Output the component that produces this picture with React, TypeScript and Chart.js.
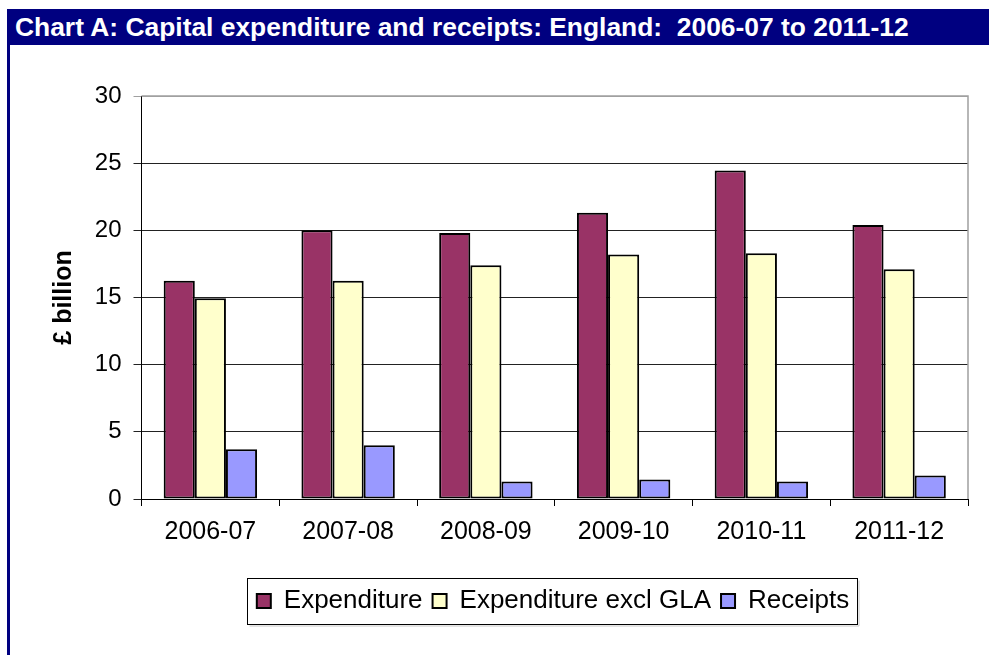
import React, { useEffect, useRef } from "react";
import { Chart, registerables } from "chart.js";

Chart.register(...registerables);

const categories = ["2006-07", "2007-08", "2008-09", "2009-10", "2010-11", "2011-12"];
const expenditure = [16.25, 20.0, 19.8, 21.3, 24.45, 20.4];
const expenditureExclGLA = [14.95, 16.25, 17.4, 18.2, 18.3, 17.1];
const receipts = [3.7, 4.0, 1.3, 1.45, 1.3, 1.75];
const yTicks = [0, 5, 10, 15, 20, 25, 30];

const FONT = "'Liberation Sans', Arial, sans-serif";
const LEGEND_SHIFT = 64;

const framePlugin = {
  id: "frame",
  afterLayout(chart: any) {
    const legend = chart.legend;
    if (legend) {
      legend.left += LEGEND_SHIFT;
      legend.right += LEGEND_SHIFT;
    }
  },
  afterDatasetsDraw(chart: any) {
    const { ctx, chartArea } = chart;
    ctx.save();
    ctx.strokeStyle = "#a0a0a0";
    ctx.lineWidth = 1.5;
    ctx.beginPath();
    ctx.moveTo(chartArea.left, chartArea.top);
    ctx.lineTo(chartArea.right, chartArea.top);
    ctx.lineTo(chartArea.right, chartArea.bottom);
    ctx.stroke();
    ctx.restore();
  },
  afterDraw(chart: any) {
    const legend = chart.legend;
    if (!legend || !legend.legendHitBoxes || !legend.legendHitBoxes.length) return;
    const boxes = legend.legendHitBoxes;
    let minX = Infinity, maxX = -Infinity, minY = Infinity, maxY = -Infinity;
    boxes.forEach((b: any) => {
      minX = Math.min(minX, b.left);
      maxX = Math.max(maxX, b.left + b.width);
      minY = Math.min(minY, b.top);
      maxY = Math.max(maxY, b.top + b.height);
    });
    const { ctx } = chart;
    ctx.save();
    ctx.strokeStyle = "#000";
    ctx.lineWidth = 1;
    const x0 = Math.round(minX - 10) + 0.5;
    const x1 = Math.round(maxX + 8) + 0.5;
    const cy = (minY + maxY) / 2;
    const y0 = Math.round(cy - 23) + 0.5;
    const y1 = Math.round(cy + 23) + 0.5;
    ctx.strokeRect(x0, y0, x1 - x0, y1 - y0);
    ctx.strokeStyle = "#c8c8c8";
    ctx.beginPath();
    ctx.moveTo(x0 + 2, y1 + 1.5);
    ctx.lineTo(x1 + 1.5, y1 + 1.5);
    ctx.lineTo(x1 + 1.5, y0 + 2);
    ctx.stroke();
    ctx.restore();
  },
};

export default function App() {
  const canvasRef = useRef<HTMLCanvasElement | null>(null);

  useEffect(() => {
    if (!canvasRef.current) return;
    const barStyle = { borderColor: "#000", borderWidth: 2, borderSkipped: false as const };
    const chart = new Chart(canvasRef.current, {
      type: "bar",
      data: {
        labels: categories,
        datasets: [
          { label: "Expenditure", data: expenditure, backgroundColor: "#993366", ...barStyle },
          { label: "Expenditure excl GLA", data: expenditureExclGLA, backgroundColor: "#FFFFCC", ...barStyle },
          { label: "Receipts", data: receipts, backgroundColor: "#9999FF", ...barStyle },
        ],
      },
      options: {
        responsive: false,
        animation: false,
        maintainAspectRatio: false,
        layout: { padding: { left: 0, right: 21, top: 51, bottom: 31 } },
        datasets: { bar: { categoryPercentage: 0.678, barPercentage: 1 } },
        plugins: {
          title: { display: false },
          tooltip: { enabled: false },
          legend: {
            position: "bottom",
            labels: {
              color: "#000",
              font: { family: FONT, size: 26 },
              boxWidth: 14,
              boxHeight: 14,
              padding: 10,
              useBorderRadius: false,
            },
          },
        },
        scales: {
          x: {
            afterFit: (scale: any) => {
              scale.height += 20;
            },
            grid: {
              offset: true,
              drawOnChartArea: false,
              drawTicks: true,
              tickLength: 7,
              color: "#000",
              lineWidth: 1,
            },
            border: { color: "#000", width: 1 },
            ticks: {
              color: "#000",
              font: { family: FONT, size: 25 },
              padding: 11,
              maxRotation: 0,
            },
          },
          y: {
            min: 0,
            max: 30,
            afterBuildTicks: (scale: any) => {
              scale.ticks = yTicks.map((v) => ({ value: v }));
            },
            afterFit: (scale: any) => {
              scale.width = 131.5;
            },
            grid: {
              color: (c: any) => (c.tick && c.tick.value === 30 ? "#a0a0a0" : "#222"),
              lineWidth: 1,
              tickLength: 8,
            },
            border: { color: "#000", width: 1 },
            ticks: {
              color: "#000",
              font: { family: FONT, size: 24 },
              padding: 12,
            },
            title: {
              display: true,
              text: "£ billion",
              color: "#000",
              font: { family: FONT, size: 25, weight: "bold" },
              padding: { top: 39, bottom: 0 },
            },
          },
        },
      },
      plugins: [framePlugin],
    });
    return () => chart.destroy();
  }, []);

  return (
    <div style={{ position: "absolute", left: 0, top: 0, width: 989, height: 655, background: "#fff", overflow: "hidden" }}>
      <div
        style={{
          position: "absolute",
          left: 7,
          top: 9,
          width: 982,
          height: 36,
          background: "#000080",
          color: "#fff",
          fontFamily: FONT,
          fontWeight: "bold",
          fontSize: 26.4,
          lineHeight: "36px",
          paddingLeft: 8,
          boxSizing: "border-box",
          whiteSpace: "nowrap",
        }}
      >
        Chart A: Capital expenditure and receipts: England:&nbsp; 2006-07 to 2011-12
      </div>
      <div style={{ position: "absolute", left: 7, top: 9, width: 3, height: 646, background: "#000080" }} />
      <canvas
        ref={canvasRef}
        width={979}
        height={610}
        style={{ position: "absolute", left: 10, top: 45, width: 979, height: 610 }}
      />
    </div>
  );
}
